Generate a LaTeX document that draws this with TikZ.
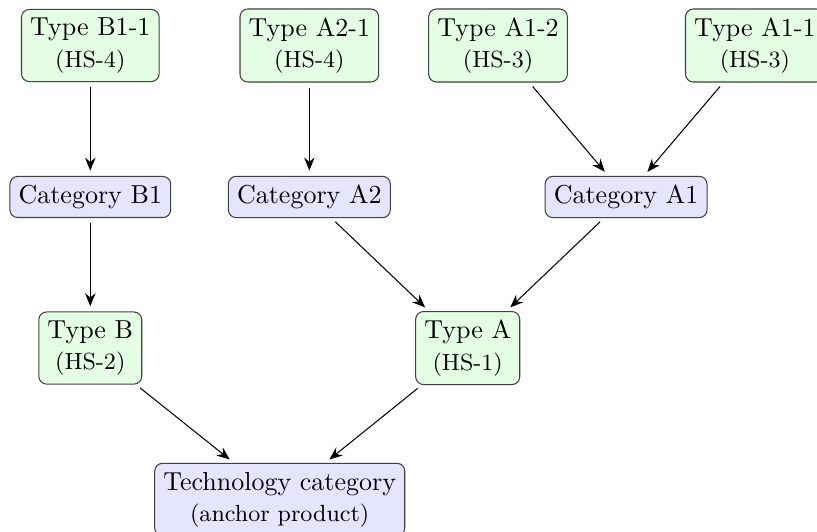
\documentclass[tikz,border=0pt]{standalone}
\usepackage{amsmath}
\usepackage{tikz}
\usetikzlibrary{positioning,arrows,arrows.meta,shapes}
\tikzset{typenode/.style={draw=black!75,fill=green!10,rounded corners=3pt,align=center}}
\tikzset{catnode/.style={draw=black!75,fill=blue!10,rounded corners=3pt,align=center}}
\tikzset{link/.style={-{Stealth[length=5pt,width=4pt]},shorten >=2pt,shorten <=2pt}}

\begin{document}
\begin{tikzpicture}
	\useasboundingbox (0,0) rectangle (11.04,-7.176);
	%%
	\node[typenode] (tb11) at (1.22,-0.615) {Type B1-1\\{\small (HS-4)}};
	\node[typenode] (ta21) at (4.18,-0.615) {Type A2-1\\{\small (HS-4)}};
	\node[typenode] (ta12) at (6.73,-0.615) {Type A1-2\\{\small (HS-3)}};
	\node[typenode] (ta11) at (10.20,-0.615) {Type A1-1\\{\small (HS-3)}};
	
	\node[catnode] (cb1) at (1.22,-2.662) {Category B1};
	\node[catnode] (ca2) at (4.18,-2.662) {Category A2};
	\node[catnode] (ca1) at (8.46,-2.662) {Category A1};
	
	\node[typenode] (tb) at (1.22,-4.703) {Type B\\{\small (HS-2)}};
	\node[typenode] (ta) at (6.32,-4.703) {Type A\\{\small (HS-1)}};
	
	\node[catnode] (tech) at (3.78,-6.75) {Technology category\\{\small (anchor product)}};
	
	\draw[link] (tb11) -- (cb1);
	\draw[link] (ta21) -- (ca2);
	\draw[link] (ta12) -- (ca1);
	\draw[link] (ta11) -- (ca1);
	\draw[link] (cb1) -- (tb);
	\draw[link] (ca2) -- (ta);
	\draw[link] (ca1) -- (ta);
	\draw[link] (tb) -- (tech);
	\draw[link] (ta) -- (tech);

\end{tikzpicture}
\end{document}
